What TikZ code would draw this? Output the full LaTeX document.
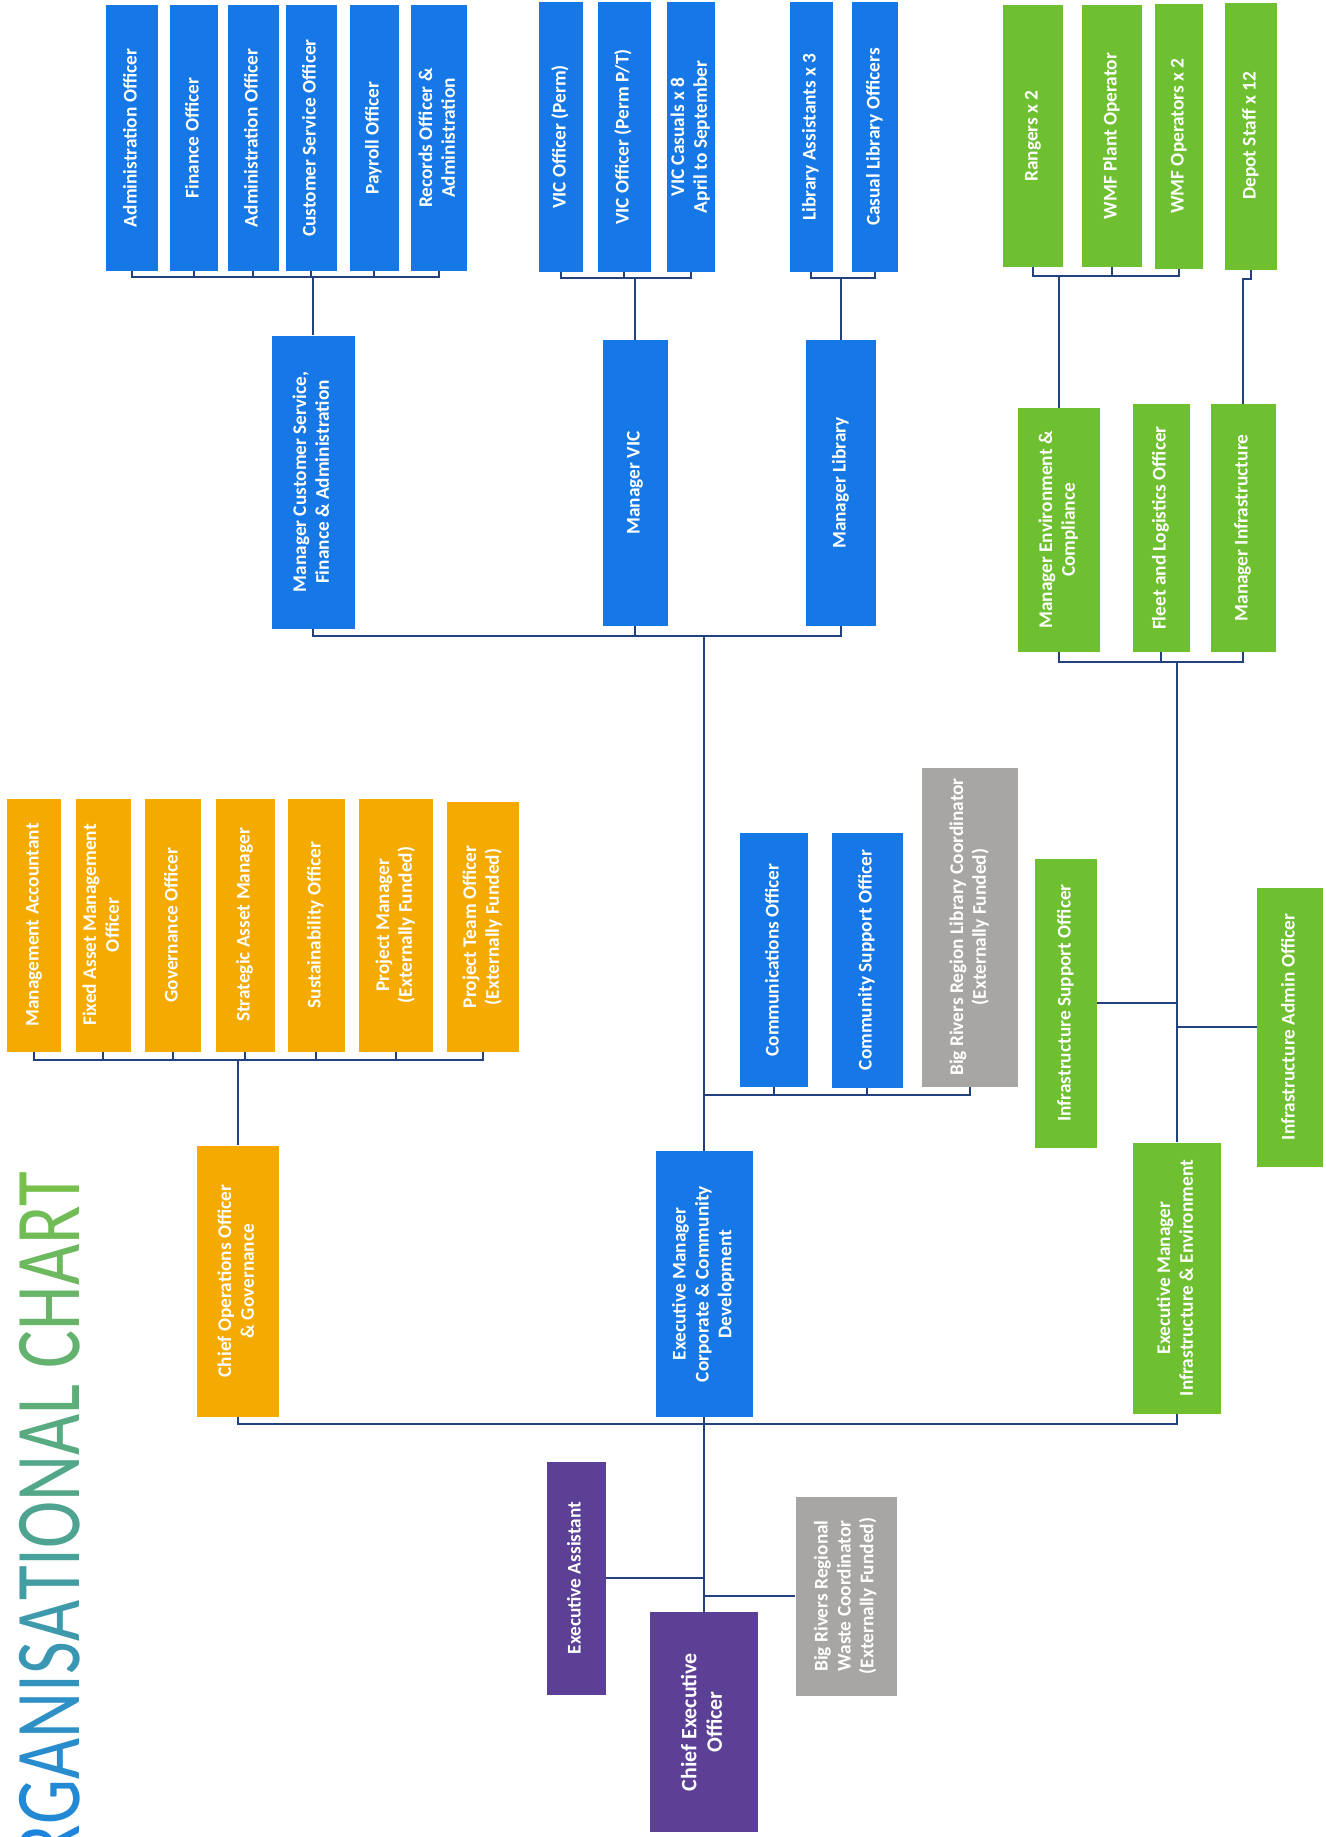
\documentclass[tikz,border=0pt]{standalone}
\usepackage{fontspec}
\setmainfont{Carlito}
\usepackage{graphicx}
\usepackage{tikz}

\definecolor{cblue}{RGB}{22,120,230}
\definecolor{corange}{RGB}{245,170,0}
\definecolor{cgreen}{RGB}{110,192,48}
\definecolor{cpurple}{RGB}{92,64,150}
\definecolor{cgrey}{RGB}{168,166,164}
\definecolor{clink}{RGB}{35,65,125}
\definecolor{ttlblue}{RGB}{25,130,230}
\definecolor{ttlgreen}{RGB}{125,195,70}

\newcommand{\vt}[1]{\rotatebox{90}{\begin{tabular}{@{}c@{}}#1\end{tabular}}}
\newcommand{\gl}[2]{{\color{ttlgreen!#1!ttlblue}#2}}

\tikzstyle{link} = [draw=clink, line width=0.9pt]

\begin{document}
\begin{tikzpicture}[x=0.02cm, y=-0.02cm,
    post/.style={rectangle, inner sep=0pt, text=white, font=\fontsize{11}{13}\selectfont\bfseries},
    wh/.style 2 args={minimum width=#1*0.02cm, minimum height=#2*0.02cm},
]
\useasboundingbox (0,0) rectangle (1326,1837);
\clip (0,0) rectangle (1326,1837);

% Title
\node[rotate=90, anchor=south east, inner sep=0pt, font=\fontsize{44}{44}\selectfont] (title) at (80,1171)
    {\scalebox{0.92}[1.2]{\gl{0}{O}\gl{5}{R}\gl{11}{G}\gl{16}{A}\gl{21}{N}\gl{26}{I}\gl{32}{S}\gl{37}{A}\gl{42}{T}\gl{47}{I}\gl{53}{O}\gl{58}{N}\gl{63}{A}\gl{68}{L} \gl{74}{C}\gl{79}{H}\gl{84}{A}\gl{89}{R}\gl{95}{T}}};

% CEO and office
\node[post, fill=cpurple, wh={108}{220}, font=\fontsize{12.5}{14.5}\selectfont\bfseries] (ceo) at (704,1722) {\vt{Chief Executive\\Officer}};
\node[post, fill=cpurple, wh={59}{233}] (ea) at (576,1578) {\vt{Executive Assistant}};
\node[post, fill=cgrey, wh={101}{199}] (wastecoord) at (846,1596) {\vt{Big Rivers Regional\\Waste Coordinator\\(Externally Funded)}};

% Executive level
\node[post, fill=corange, wh={82}{271}] (coo) at (238,1281) {\vt{Chief Operations Officer\\\& Governance}};
\node[post, fill=cblue, wh={97}{266}] (emcorp) at (704,1284) {\vt{Executive Manager\\Corporate \& Community\\Development}};
\node[post, fill=cgreen, wh={88}{271}] (eminfra) at (1177,1278) {\vt{Executive Manager\\Infrastructure \& Environment}};

% Operations & governance team
\node[post, fill=corange, wh={54}{253}] (mgmtacc) at (34,925) {\vt{Management Accountant}};
\node[post, fill=corange, wh={55}{253}] (fixedasset) at (103,925) {\vt{Fixed Asset Management\\Officer}};
\node[post, fill=corange, wh={56}{253}] (govoff) at (173,925) {\vt{Governance Officer}};
\node[post, fill=corange, wh={59}{253}] (stratasset) at (245,925) {\vt{Strategic Asset Manager}};
\node[post, fill=corange, wh={57}{253}] (sustain) at (316,925) {\vt{Sustainability Officer}};
\node[post, fill=corange, wh={74}{253}] (projmgr) at (396,925) {\vt{Project Manager\\(Externally Funded)}};
\node[post, fill=corange, wh={72}{250}] (projteam) at (483,927) {\vt{Project Team Officer\\(Externally Funded)}};

% Corporate & community managers
\node[post, fill=cblue, wh={83}{293}] (mgrcs) at (313,482) {\vt{Manager Customer Service,\\Finance \& Administration}};
\node[post, fill=cblue, wh={65}{286}] (mgrvic) at (635,483) {\vt{Manager VIC}};
\node[post, fill=cblue, wh={70}{286}] (mgrlib) at (841,483) {\vt{Manager Library}};

% Customer service team
\node[post, fill=cblue, wh={52}{266}] (adminoff) at (132,138) {\vt{Administration Officer}};
\node[post, fill=cblue, wh={48}{266}] (finoff) at (194,138) {\vt{Finance Officer}};
\node[post, fill=cblue, wh={51}{266}] (adminofftwo) at (253,138) {\vt{Administration Officer}};
\node[post, fill=cblue, wh={51}{266}] (custserv) at (311,138) {\vt{Customer Service Officer}};
\node[post, fill=cblue, wh={49}{266}] (payroll) at (374,138) {\vt{Payroll Officer}};
\node[post, fill=cblue, wh={56}{266}] (records) at (439,138) {\vt{Records Officer \&\\Administration}};

% VIC and library teams
\node[post, fill=cblue, wh={44}{270}] (vicperm) at (561,137) {\vt{VIC Officer (Perm)}};
\node[post, fill=cblue, wh={53}{270}] (vicpt) at (624,137) {\vt{VIC Officer (Perm P/T)}};
\node[post, fill=cblue, wh={48}{270}] (viccas) at (691,137) {\vt{VIC Casuals x 8\\April to September}};
\node[post, fill=cblue, wh={43}{270}] (libassist) at (811,137) {\vt{Library Assistants x 3}};
\node[post, fill=cblue, wh={46}{270}] (caslib) at (875,137) {\vt{Casual Library Officers}};

% Community team
\node[post, fill=cblue, wh={68}{254}] (commoff) at (774,960) {\vt{Communications Officer}};
\node[post, fill=cblue, wh={71}{255}] (commsupp) at (867,960) {\vt{Community Support Officer}};
\node[post, fill=cgrey, wh={96}{319}] (libcoord) at (970,927) {\vt{Big Rivers Region Library Coordinator\\(Externally Funded)}};

% Infrastructure & environment
\node[post, fill=cgreen, wh={62}{289}] (infsupp) at (1066,1003) {\vt{Infrastructure Support Officer}};
\node[post, fill=cgreen, wh={66}{279}] (infadmin) at (1290,1027) {\vt{Infrastructure Admin Officer}};
\node[post, fill=cgreen, wh={82}{244}] (mgrenv) at (1059,530) {\vt{Manager Environment \&\\Compliance}};
\node[post, fill=cgreen, wh={57}{248}] (fleet) at (1161,528) {\vt{Fleet and Logistics Officer}};
\node[post, fill=cgreen, wh={65}{248}] (mgrinfra) at (1243,528) {\vt{Manager Infrastructure}};
\node[post, fill=cgreen, wh={60}{262}] (rangers) at (1033,136) {\vt{Rangers x 2}};
\node[post, fill=cgreen, wh={60}{262}] (wmfplant) at (1112,136) {\vt{WMF Plant Operator}};
\node[post, fill=cgreen, wh={48}{265}] (wmfops) at (1179,136) {\vt{WMF Operators x 2}};
\node[post, fill=cgreen, wh={52}{267}] (depot) at (1251,136) {\vt{Depot Staff x 12}};

% Bus points
\coordinate (exbus) at (704,1424);
\coordinate (coobus) at (238,1060);
\coordinate (mgrbus) at (704,636);
\coordinate (commbus) at (704,1095);
\coordinate (csbus) at (313,277);
\coordinate (vicbus) at (635,278);
\coordinate (libbus) at (841,278);
\coordinate (envbus) at (1059,276);
\coordinate (infbus) at (1177,662);

% Connectors
\draw[link] (coo.south) |- (exbus) (eminfra.south) |- (exbus) (emcorp.south) -- (ceo.north);
\draw[link] (ea.east) -- (ea.east -| ceo.north) (wastecoord.west) -- (wastecoord.west -| ceo.north);
\draw[link] (coo.north) -- (coobus) (mgmtacc.south) |- (coobus) (fixedasset.south) |- (coobus)
    (govoff.south) |- (coobus) (stratasset.south) |- (coobus) (sustain.south) |- (coobus)
    (projmgr.south) |- (coobus) (projteam.south) |- (coobus);
\draw[link] (emcorp.north) -- (mgrbus) (mgrcs.south) |- (mgrbus) (mgrvic.south) |- (mgrbus) (mgrlib.south) |- (mgrbus);
\draw[link] (commoff.south) |- (commbus) (commsupp.south) |- (commbus) (libcoord.south) |- (commbus);
\draw[link] (mgrcs.north) -- (csbus) (adminoff.south) |- (csbus) (finoff.south) |- (csbus) (adminofftwo.south) |- (csbus)
    (custserv.south) |- (csbus) (payroll.south) |- (csbus) (records.south) |- (csbus);
\draw[link] (mgrvic.north) -- (vicbus) (vicperm.south) |- (vicbus) (vicpt.south) |- (vicbus) (viccas.south) |- (vicbus);
\draw[link] (mgrlib.north) -- (libbus) (libassist.south) |- (libbus) (caslib.south) |- (libbus);
\draw[link] (mgrenv.north) -- (envbus) (rangers.south) |- (envbus) (wmfplant.south) |- (envbus) (wmfops.south) |- (envbus);
\draw[link] (depot.south) -- ++(0,9) -| (mgrinfra.north);
\draw[link] (eminfra.north) -- (infbus) (mgrenv.south) |- (infbus) (fleet.south) |- (infbus) (mgrinfra.south) |- (infbus);
\draw[link] (infsupp.east) -- (infsupp.east -| eminfra.north) (infadmin.west) -- (infadmin.west -| eminfra.north);

\end{tikzpicture}
\end{document}
